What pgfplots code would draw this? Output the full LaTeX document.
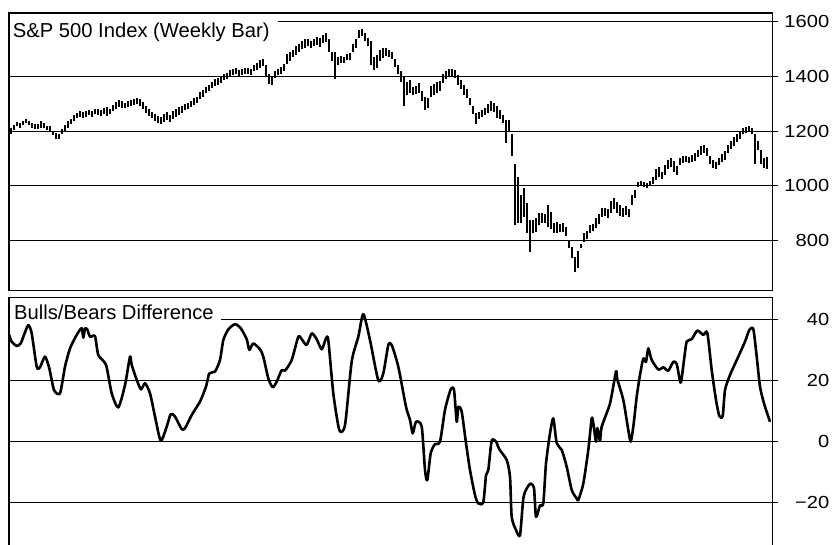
\documentclass[border=0pt]{standalone}
\usepackage{pgfplots}
\pgfplotsset{compat=1.18}
\usepackage{pgfplotstable}
\usepackage{fontspec}
\setmainfont{Liberation Sans}
\newfontfamily\tickfont[FakeStretch=1.15]{Liberation Sans}

% weekly bars: x position, low, high
\pgfplotstableread{
x lo hi
11 1190 1212
14 1205 1222
17 1218 1232
20 1212 1228
23 1222 1238
26 1230 1244
29 1222 1236
32 1212 1228
35 1208 1226
38 1206 1224
41 1212 1236
44 1210 1230
47 1202 1218
50 1198 1218
53 1185 1200
56 1172 1192
59 1170 1188
62 1188 1208
65 1200 1222
68 1212 1235
71 1225 1245
74 1238 1260
77 1248 1266
80 1252 1272
83 1248 1268
86 1250 1274
89 1258 1278
92 1252 1272
95 1262 1280
98 1260 1282
101 1256 1276
104 1262 1284
107 1255 1288
110 1262 1282
113 1272 1295
116 1282 1305
119 1288 1314
122 1285 1308
125 1284 1304
128 1288 1310
131 1292 1314
134 1296 1318
137 1298 1322
140 1292 1318
143 1282 1306
146 1265 1292
149 1255 1280
152 1248 1268
155 1238 1262
158 1230 1256
161 1226 1252
164 1234 1262
167 1240 1268
170 1232 1258
173 1245 1272
176 1252 1280
179 1260 1286
182 1266 1292
185 1275 1298
188 1280 1304
191 1286 1310
194 1296 1320
197 1302 1326
200 1318 1342
203 1325 1350
206 1338 1362
209 1345 1370
212 1358 1380
215 1366 1390
218 1370 1394
221 1375 1398
224 1386 1408
227 1392 1414
230 1402 1422
233 1405 1428
236 1408 1430
239 1400 1422
242 1404 1426
245 1408 1430
248 1410 1432
251 1406 1428
254 1418 1440
257 1424 1448
260 1432 1458
263 1438 1464
266 1400 1440
269 1372 1410
272 1370 1402
275 1395 1420
278 1405 1428
281 1410 1436
284 1418 1446
287 1445 1480
290 1455 1490
293 1470 1498
296 1478 1510
299 1490 1520
302 1500 1528
305 1505 1535
308 1510 1538
311 1504 1530
314 1512 1538
317 1515 1545
320 1508 1540
323 1522 1552
326 1525 1558
329 1490 1535
332 1455 1490
335 1390 1490
338 1440 1472
341 1450 1475
344 1448 1472
347 1458 1482
350 1460 1486
353 1488 1520
356 1505 1535
359 1540 1568
362 1548 1572
365 1530 1558
368 1510 1540
371 1440 1530
374 1425 1470
377 1430 1478
380 1455 1495
383 1468 1505
386 1475 1502
389 1470 1495
392 1462 1490
395 1435 1462
398 1410 1440
401 1380 1418
404 1290 1400
407 1330 1380
410 1340 1388
413 1330 1362
416 1335 1365
419 1338 1376
422 1310 1348
425 1275 1325
428 1285 1320
431 1325 1365
434 1330 1372
437 1340 1378
440 1348 1382
443 1375 1410
446 1390 1420
449 1398 1428
452 1400 1426
455 1395 1425
458 1370 1405
461 1355 1385
464 1332 1370
467 1320 1352
470 1295 1322
473 1262 1292
476 1225 1265
479 1245 1270
482 1250 1275
485 1258 1285
488 1265 1300
491 1272 1310
494 1268 1302
497 1248 1290
500 1245 1275
503 1228 1260
506 1155 1242
509 1195 1240
512 1110 1190
515 855 1080
518 865 1030
521 865 965
524 885 990
527 825 935
530 757 875
533 825 875
536 830 880
539 855 900
542 862 900
545 865 895
548 850 930
551 840 905
554 825 865
557 828 868
560 830 860
563 832 862
566 815 850
569 770 800
572 735 775
575 685 740
578 700 760
581 770 785
584 795 825
587 805 835
590 825 855
593 835 858
596 845 880
599 860 895
602 885 918
605 890 918
608 880 915
611 900 945
614 915 955
617 900 940
620 890 930
623 885 920
626 892 925
629 885 915
632 930 965
635 955 985
638 995 1015
641 1000 1018
644 995 1012
647 990 1010
650 1000 1018
653 1005 1030
656 1020 1060
659 1030 1070
662 1025 1050
665 1040 1075
668 1060 1095
671 1068 1100
674 1050 1090
677 1040 1072
680 1075 1100
683 1082 1108
686 1085 1110
689 1082 1105
692 1088 1112
695 1092 1118
698 1105 1130
701 1112 1145
704 1120 1150
707 1110 1138
710 1080 1110
713 1065 1095
716 1060 1088
719 1075 1102
722 1085 1115
725 1095 1125
728 1120 1150
731 1135 1162
734 1145 1178
737 1160 1190
740 1170 1198
743 1188 1212
746 1192 1215
749 1195 1218
752 1188 1212
755 1080 1190
758 1130 1165
761 1080 1132
764 1065 1100
767 1060 1105
}\spx

% bulls minus bears, same x positions
\pgfplotstableread{
x v
9 35.0
11.7 32.7
16.7 31.3
20.7 32.1
24 34.9
28.3 38.1
31.7 35.4
36.7 24.5
40 24.3
45 27.8
49.3 24.0
54 16.9
60 15.8
65 24.5
70 30.5
76.7 34.9
81.7 37.1
83.3 34.0
85 37.0
87.3 36.7
90 34.3
95 34.5
98.3 28.3
106 25.1
111.7 15.8
118.3 11.2
125 18.5
130 27.8
131.7 25.1
136.7 20.2
141 17.1
145 19.1
150 15.8
155 8.2
160.7 0.3
166.7 4.9
170.7 9.0
175 8.2
181.7 4.1
185 4.4
191.7 8.7
200 13.1
206 18.0
209.3 22.3
215 22.9
220 26.7
223.3 33.2
228.3 36.7
235 38.4
240.7 37.1
246.7 33.5
249.3 30.0
253.3 32.1
260 30.2
263.3 27.8
268.3 20.7
272.7 17.8
276.7 19.6
281.7 23.4
285 23.2
291.7 26.7
298.3 34.3
301.7 33.5
306.7 31.6
311.7 35.4
316.7 33.5
321.7 30.2
326 33.8
328.3 33.2
333.3 15.8
339.3 3.8
345 5.4
351.7 26.2
358.3 34.3
363.3 41.7
370 33.2
378.3 20.0
383.3 22.3
388.3 31.6
391.7 31.6
398.3 24.5
406 11.4
410 7.1
412.7 2.7
416 6.5
421.7 4.9
425 -9.3
427.3 -12.6
430.7 -3.8
435 -0.8
440 0
445 10.4
450.7 17.1
454 16.9
456.7 6.5
458.3 11.4
461.7 9.8
466 -0.5
470 -9.3
475 -17.5
478.3 -20.2
483.3 -19.8
486 -11
488.3 -9.3
491.7 0.3
496 0
499.3 -2.5
506.7 -6
510 -11.5
511.7 -24.6
516 -28.9
520 -30.6
523.3 -18.6
526.7 -15.3
530.7 -13.7
534 -15.3
536 -24.6
540 -20.8
543.3 -20.2
546 -7.1
550 2.7
553.3 7.6
556.7 -0.5
561.7 -2.7
566.7 -8.2
571.7 -15.8
576.7 -18.6
578.3 -19.1
583.3 -13.7
588.3 -2.7
591.7 7.6
593.3 6.0
596 0
597.3 4.4
600 0.3
601.7 4.9
610 12.5
616 22.9
617.3 20.4
623.3 13.6
628.3 3.8
630.7 0
633.3 4.9
636.7 14.7
640 21.8
643.3 27.2
646 26.1
648.3 30.5
651.7 26.7
658.3 23.6
663.3 24.3
668.3 23.2
673.3 26.1
676.7 25.4
680.7 19.3
684 26.7
686.7 32.7
691.7 33.5
697.3 36.3
703.3 34.9
707.3 35.6
711.7 23.4
716 13.6
719.3 8.4
722.7 8.4
725 16.9
730 21.8
738.3 27.8
745 32.7
749.3 36.5
753.3 36.8
756.7 27.8
760 18.0
764 12.5
770 6.5
}\bulls

\pgfplotsset{
  panel/.style={
    scale only axis,
    width=763.5bp,
    xmin=9, xmax=772.5,
    xtick=\empty,
    ytick pos=right,
    tick align=outside,
    major tick length=5.5bp,
    ymajorgrids,
    major grid style={black, line width=0.9bp},
    axis line style={line width=1.3bp},
    every tick/.style={black, line width=0.9bp},
    yticklabel style={anchor=west, text width=45bp, align=right, inner xsep=0pt,
      xshift=6bp, font=\tickfont\fontsize{17.5bp}{20bp}\selectfont},
  },
}

\begin{document}
\begin{tikzpicture}
\begin{axis}[panel,
  at={(9bp,254.5bp)}, anchor=south west,
  height=277.5bp,
  ymin=616.3, ymax=1631.8,
  ytick={800,1000,1200,1400,1600},
  yticklabels={800,1000,1200,1400,1600},
]
\addplot[draw=none, mark=none,
  error bars/.cd, y dir=plus, y explicit, error mark=none,
  error bar style={draw=black, line width=1.4bp}]
  table[x=x, y=lo, y error expr=\thisrow{hi}-\thisrow{lo}] {\spx};
\end{axis}

\begin{axis}[panel,
  at={(9bp,-2bp)}, anchor=south west,
  height=249.7bp,
  ymin=-34.45, ymax=47.2,
  ytick={-20,0,20,40},
  yticklabels={−20,0,20,40},
]
\addplot[black, line width=2.6bp, smooth, tension=0.4, line join=round]
  table[x=x, y=v] {\bulls};
\end{axis}

\fill[white] (9.9bp,503bp) rectangle (278bp,528bp);
\node[anchor=base west, inner sep=0pt, font=\fontsize{20.2bp}{24bp}\selectfont]
  at (12.7bp,507.3bp) {S\&P 500 Index (Weekly Bar)};
\fill[white] (9.9bp,223.5bp) rectangle (221bp,246bp);
\node[anchor=base west, inner sep=0pt, font=\fontsize{20.2bp}{24bp}\selectfont]
  at (14bp,225.7bp) {Bulls/Bears Difference};

\pgfresetboundingbox
\path[use as bounding box] (0,0) rectangle (832bp,545bp);
\end{tikzpicture}
\end{document}
